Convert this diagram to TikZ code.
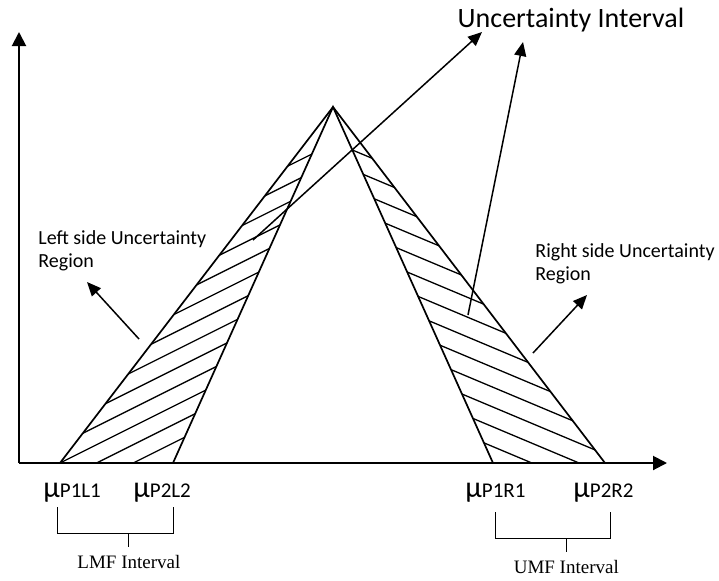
\documentclass[tikz,border=0pt]{standalone}
\usepackage{fontspec}
\setmainfont{Liberation Serif}
\newfontfamily\calibri{Carlito}
\usepackage{tikz}
\usetikzlibrary{arrows.meta}
\usetikzlibrary{calc}
\tikzstyle{axis}=[line width=1pt, -{Triangle[length=7pt,width=7pt]}]
\tikzstyle{edge}=[line width=0.85pt]
\tikzstyle{hatch}=[line width=0.65pt]
\tikzstyle{pointer}=[line width=0.75pt, -{Triangle[length=7pt,width=6pt]}]
\tikzstyle{bracket}=[line width=0.5pt]
\tikzstyle{caption}=[inner sep=0pt, align=left, font=\calibri\fontsize{10}{11.5}\selectfont]
\newcommand{\muLabel}[3]{
	\node[anchor=base west, inner sep=0pt] (#1) at #2 {{\calibri\fontsize{15}{15}\selectfont μ}{\calibri\fontsize{10.5}{12}\selectfont #3}};
}
\newcommand{\intervalBracket}[5]{
	\coordinate (#1a) at #2;
	\coordinate (#1b) at #3;
	\coordinate (#1c) at ($(#1a)+(0,#4)$);
	\coordinate (#1d) at ($(#1b)+(0,#4)$);
	\coordinate (#1m) at ($(#1c)!0.62!(#1d)$);
	\draw[bracket] (#1a) -- (#1c) -- (#1d) -- (#1b);
	\draw[bracket] (#1m) -- ++(0,14) coordinate (#1t);
	\node[anchor=base, inner sep=0pt, font=\fontsize{9.5}{11}\selectfont] (#1) at ($(#1t)+(0,21)$) {#5};
}

\begin{document}
\begin{tikzpicture}[x=0.5pt, y=-0.5pt]
	\useasboundingbox (0,0) rectangle (719,580);
	\coordinate (origin) at (19,463);
	\coordinate (ytip) at (19,32);
	\coordinate (xtip) at (667,463);
	\coordinate (apex) at (333,107);
	\coordinate (l1) at (60,463);
	\coordinate (l2) at (173,463);
	\coordinate (r1) at (493,463);
	\coordinate (r2) at (605,463);
	\begin{scope}
		\clip (l1) -- (apex) -- (l2) -- cycle;
		\foreach \i in {0,...,12}
			\draw[hatch] (0,{310+18.3*\i}) -- (400,{110+18.3*\i});
	\end{scope}
	\begin{scope}
		\clip (r1) -- (apex) -- (r2) -- cycle;
		\foreach \i in {0,...,12}
			\draw[hatch] (300,{128+19.8*\i}) -- (700,{296+19.8*\i});
	\end{scope}
	\draw[edge] (l1) -- (apex) -- (r2);
	\draw[edge] (l2) -- (apex) -- (r1);
	\draw[axis] (origin) -- (ytip);
	\draw[axis] (origin) -- (xtip);
	\node[anchor=base, inner sep=0pt, font=\calibri\fontsize{14}{16}\selectfont] (ui) at (571,27) {Uncertainty Interval};
	\coordinate (uiL) at (482,32);
	\coordinate (uiR) at (523,42);
	\coordinate (leftIn) at (253,240);
	\coordinate (rightIn) at (468,315);
	\draw[pointer] (leftIn) -- (uiL);
	\draw[pointer] (rightIn) -- (uiR);
	\node[caption, anchor=north west] (lsr) at (38,230) {Left side Uncertainty\\Region};
	\node[caption, anchor=north west] (rsr) at (535,243) {Right side Uncertainty\\Region};
	\coordinate (lsrTail) at (139,339);
	\coordinate (lsrHead) at (87,282);
	\coordinate (rsrTail) at (533,353);
	\coordinate (rsrHead) at (587,295);
	\draw[pointer] (lsrTail) -- (lsrHead);
	\draw[pointer] (rsrTail) -- (rsrHead);
	\muLabel{mul1}{(43,497)}{P1L1}
	\muLabel{mul2}{(133,497)}{P2L2}
	\muLabel{mur1}{(465,497)}{P1R1}
	\muLabel{mur2}{(573,497)}{P2R2}
	\intervalBracket{lmf}{(57,507)}{(173,507)}{26}{LMF Interval}
	\intervalBracket{umf}{(495,512)}{(610,512)}{26}{UMF Interval}
\end{tikzpicture}
\end{document}
